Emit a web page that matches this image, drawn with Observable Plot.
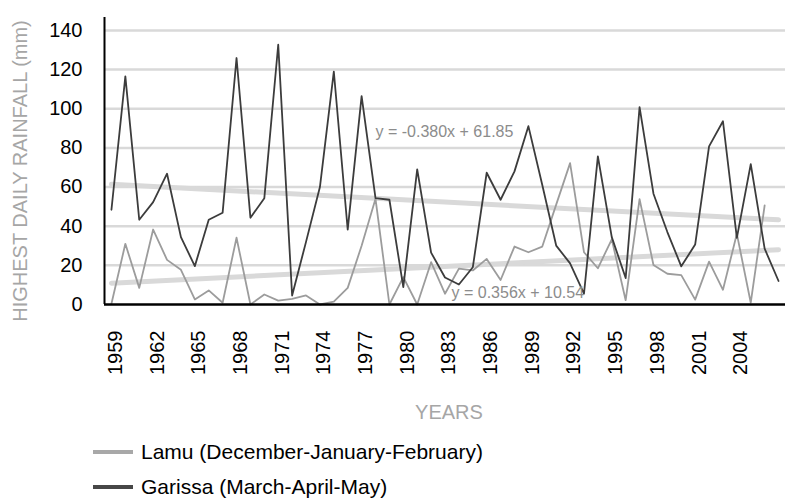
<!DOCTYPE html>
<html>
<head>
<meta charset="utf-8">
<script src="https://cdn.jsdelivr.net/npm/d3@7"></script>
<script src="https://cdn.jsdelivr.net/npm/@observablehq/plot@0.6"></script>
<style>
  html, body { margin: 0; padding: 0; background: #fff; }
  body { font-family: "Liberation Sans", Arial, sans-serif; width: 787px; height: 502px; overflow: hidden; }
  #legend { padding-left: 93px; margin-top: 2px; font-size: 21px; color: #000; }
  #legend .row { height: 35px; display: flex; align-items: center; }
  #legend .sw { display: inline-block; width: 40px; height: 4px; margin-right: 8px; }
</style>
</head>
<body>
<div id="chart"></div>
<div id="legend"></div>
<script>
// ---- Data ----
const years = [1959,1960,1961,1962,1963,1964,1965,1966,1967,1968,1969,1970,1971,1972,1973,1974,1975,1976,1977,1978,
  1979,1980,1981,1982,1983,1984,1985,1986,1987,1988,1989,1990,1991,1992,1993,1994,1995,1996,1997,1998,
  1999,2000,2001,2002,2003,2004,2005,2006,2007];

const garissa = [48.4,116.5,43.3,52.3,66.8,34.4,19.6,43.3,46.9,125.9,44.3,54.3,132.7,4.6,32,60,119,38.2,106.4,54.3,
  53.5,8.9,69,26.5,13.8,10.2,19,67.3,53.5,68,91.1,61,30.1,21,5.5,75.7,34.4,13.5,100.8,56.6,
  37,19.5,30.6,80.8,93.6,34,71.7,28.5,12];

const lamu = [0.4,31,8.5,38.3,22.8,17.7,2.6,7.2,0.9,34.1,0,5.1,2,2.9,4.6,0,1.5,8.5,30,54,
  0,14,0,21.6,5.5,18.3,17.4,23.3,12.5,29.6,26.7,29.6,51,72.2,26.7,18.5,33.3,2.2,53.8,20.2,
  15.7,15,2.5,21.9,7.5,36.1,0.9,50.6,null];

const seriesNames = ["Lamu (December-January-February)", "Garissa (March-April-May)"];
const seriesColors = ["#9c9c9c", "#3c3c3c"];
const legendColors = ["#a8a8a8", "#474747"];

// Linear trend lines as printed on the chart (x = 1..n)
const trendSlopes = [0.356, -0.380];
const trendIntercepts = [10.54, 61.85];
const trendLabels = ["y = 0.356x + 10.54", "y = -0.380x + 61.85"];

const yTicks = [0,20,40,60,80,100,120,140];
const xTicks = [1959,1962,1965,1968,1971,1974,1977,1980,1983,1986,1989,1992,1995,1998,2001,2004];

const yTitle = "HIGHEST DAILY RAINFALL (mm)";
const xTitle = "YEARS";

// ---- Build tables ----
const garissaRows = years.map((yr, i) => ({year: yr, value: garissa[i]}));
const lamuRows = years.map((yr, i) => ({year: yr, value: lamu[i]}));
const trendRows = (k) => [1, years.length].map(n => ({year: years[n - 1], value: trendSlopes[k] * n + trendIntercepts[k]}));

const xDomain = [years[0] - 0.5, years[years.length - 1] + 0.5];
const H = 432;

const chart = Plot.plot({
  width: 787,
  height: H,
  marginLeft: 104,
  marginRight: 2,
  marginTop: 17,
  marginBottom: H - 304,
  style: {fontFamily: "'Liberation Sans', Arial, sans-serif", fontSize: "20px", color: "#000", background: "#fff", overflow: "visible"},
  x: {type: "linear", domain: xDomain},
  y: {domain: [0, 146.6]},
  marks: [
    Plot.ruleY(yTicks.filter(t => t > 0), {stroke: "#d9d9d9", strokeWidth: 2.5}),
    Plot.line(trendRows(1), {x: "year", y: "value", stroke: "#d9d9d9", strokeWidth: 5}),
    Plot.line(trendRows(0), {x: "year", y: "value", stroke: "#d9d9d9", strokeWidth: 5}),
    Plot.line(lamuRows, {x: "year", y: "value", stroke: seriesColors[0], strokeWidth: 1.8}),
    Plot.line(garissaRows, {x: "year", y: "value", stroke: seriesColors[1], strokeWidth: 1.8}),
    Plot.text([trendLabels[1]], {frameAnchor: "top-left", dx: 271, dy: 114, textAnchor: "start", lineAnchor: "middle", fontSize: 16, fill: "#8c8c8c"}),
    Plot.text([trendLabels[0]], {frameAnchor: "top-left", dx: 347, dy: 275, textAnchor: "start", lineAnchor: "middle", fontSize: 16, fill: "#8c8c8c"}),
    Plot.ruleY([0], {stroke: "#000", strokeWidth: 2.5}),
    Plot.ruleX([xDomain[0]], {stroke: "#000", strokeWidth: 2}),
    Plot.axisY({ticks: yTicks, tickSize: 0, tickPadding: 22, fontSize: 20, label: null}),
    Plot.axisX({ticks: xTicks, tickSize: 0, tickPadding: 26, tickRotate: -90, tickFormat: d => String(d), fontSize: 20, label: null, dx: 4}),
    Plot.text([yTitle], {frameAnchor: "left", dx: -84, dy: 10, rotate: -90, textAnchor: "middle", lineAnchor: "middle", fill: "#a6a6a6", fontSize: 20}),
    Plot.text([xTitle], {frameAnchor: "bottom", dx: 4, dy: 114, fill: "#a6a6a6", fontSize: 20})
  ]
});
document.getElementById("chart").appendChild(chart);

// ---- Legend ----
const legend = document.getElementById("legend");
seriesNames.forEach((name, i) => {
  const row = document.createElement("div");
  row.className = "row";
  const sw = document.createElement("span");
  sw.className = "sw";
  sw.style.background = legendColors[i];
  row.appendChild(sw);
  row.appendChild(document.createTextNode(name));
  legend.appendChild(row);
});
</script>
</body>
</html>
